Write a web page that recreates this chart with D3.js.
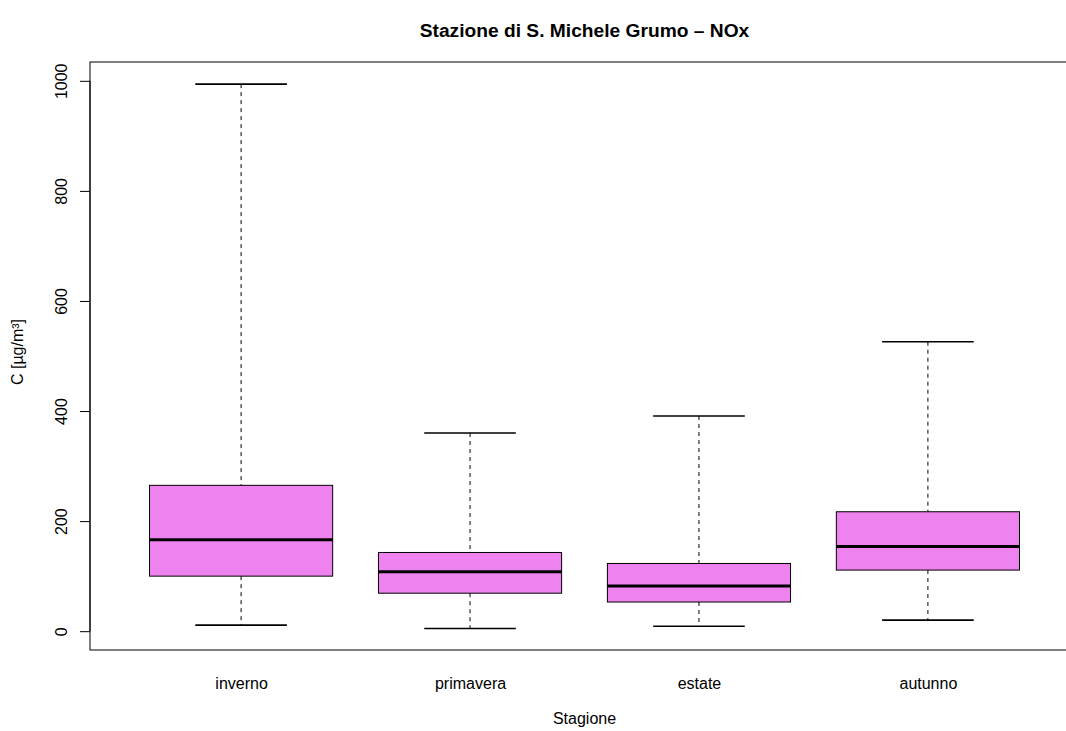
<!DOCTYPE html>
<html><head><meta charset="utf-8">
<script src="https://cdn.jsdelivr.net/npm/d3@7"></script>
<style>body{margin:0;background:#fff}svg{display:block}text{font-family:"Liberation Sans",Arial,sans-serif}</style>
</head><body>
<svg id="c" width="1066" height="731"></svg>
<script>
const categories = ["inverno","primavera","estate","autunno"];
const whiskerLow = [11, 5, 9, 20];
const q1 = [100, 69, 53, 111];
const median = [166, 108, 82, 154];
const q3 = [265, 143, 123, 217];
const whiskerHigh = [994, 360, 391, 526];
const yTicks = [0, 200, 400, 600, 800, 1000];
const title = "Stazione di S. Michele Grumo \u2013 NOx";
const xTitle = "Stagione";
const yTitle = "C [\u00b5g/m\u00b3]";

const svg = d3.select("#c");
const L = 90, R = 1079, T = 62, B = 650;
const FONT = '"Liberation Sans", Arial, sans-serif';
const x = d3.scaleLinear().domain([0.34, 4.66]).range([L, R]);
const y = d3.scaleLinear().domain([-34.2, 1034.2]).range([B, T]);
const boxW = (x(1.4) - x(0.6));
const capW = boxW / 2;

const data = categories.map((c, i) => ({c, pos: i + 1, lo: whiskerLow[i], q1: q1[i], med: median[i], q3: q3[i], hi: whiskerHigh[i]}));

const g = svg.append("g");
data.forEach(d => {
  const cx = x(d.pos);
  g.append("line").attr("x1", cx).attr("x2", cx).attr("y1", y(d.hi)).attr("y2", y(d.q3))
    .attr("stroke", "#000").attr("stroke-width", 1).attr("stroke-dasharray", "4,4");
  g.append("line").attr("x1", cx).attr("x2", cx).attr("y1", y(d.q1)).attr("y2", y(d.lo))
    .attr("stroke", "#000").attr("stroke-width", 1).attr("stroke-dasharray", "4,4");
  g.append("line").attr("x1", cx - capW/2).attr("x2", cx + capW/2).attr("y1", y(d.hi)).attr("y2", y(d.hi))
    .attr("stroke", "#000").attr("stroke-width", 1.6);
  g.append("line").attr("x1", cx - capW/2).attr("x2", cx + capW/2).attr("y1", y(d.lo)).attr("y2", y(d.lo))
    .attr("stroke", "#000").attr("stroke-width", 1.6);
  g.append("rect").attr("x", cx - boxW/2).attr("width", boxW)
    .attr("y", y(d.q3)).attr("height", y(d.q1) - y(d.q3))
    .attr("fill", "#EE82EE").attr("stroke", "#000").attr("stroke-width", 1);
  g.append("line").attr("x1", cx - boxW/2).attr("x2", cx + boxW/2).attr("y1", y(d.med)).attr("y2", y(d.med))
    .attr("stroke", "#000").attr("stroke-width", 3);
});

svg.append("rect").attr("x", L).attr("y", T).attr("width", R - L).attr("height", B - T)
  .attr("fill", "none").attr("stroke", "#000").attr("stroke-width", 1);

const yAxis = d3.axisLeft(y).tickValues(yTicks).tickSize(10).tickSizeOuter(0).tickFormat(d3.format("d"));
const ya = svg.append("g").attr("transform", `translate(${L},0)`).call(yAxis);
ya.select(".domain").attr("d", `M0,${y(0)}V${y(1000)}`).attr("stroke", "#000");
ya.selectAll(".tick line").attr("stroke", "#000");
ya.selectAll(".tick text")
  .attr("x", 0).attr("y", 0).attr("dy", null)
  .attr("transform", "translate(-23,0) rotate(-90)")
  .attr("text-anchor", "middle")
  .attr("font-size", 16).attr("fill", "#000")
  .style("font-family", FONT);

const xa = svg.append("g").attr("transform", `translate(0,${B})`)
  .call(d3.axisBottom(x).tickValues(data.map(d => d.pos)).tickFormat((d, i) => categories[i]).tickSize(0));
xa.select(".domain").remove();
xa.selectAll(".tick text").attr("y", 0).attr("dy", "39").attr("font-size", 16).attr("fill", "#000")
  .style("font-family", FONT);

svg.append("text").attr("x", (L + R) / 2).attr("y", 37).attr("text-anchor", "middle")
  .attr("font-size", 19.2).attr("font-weight", "bold").text(title);
svg.append("text").attr("x", (L + R) / 2).attr("y", 724).attr("text-anchor", "middle")
  .attr("font-size", 16).text(xTitle);
svg.append("text").attr("transform", `translate(23,352) rotate(-90)`).attr("text-anchor", "middle")
  .attr("font-size", 16).text(yTitle);
</script>
</body></html>
